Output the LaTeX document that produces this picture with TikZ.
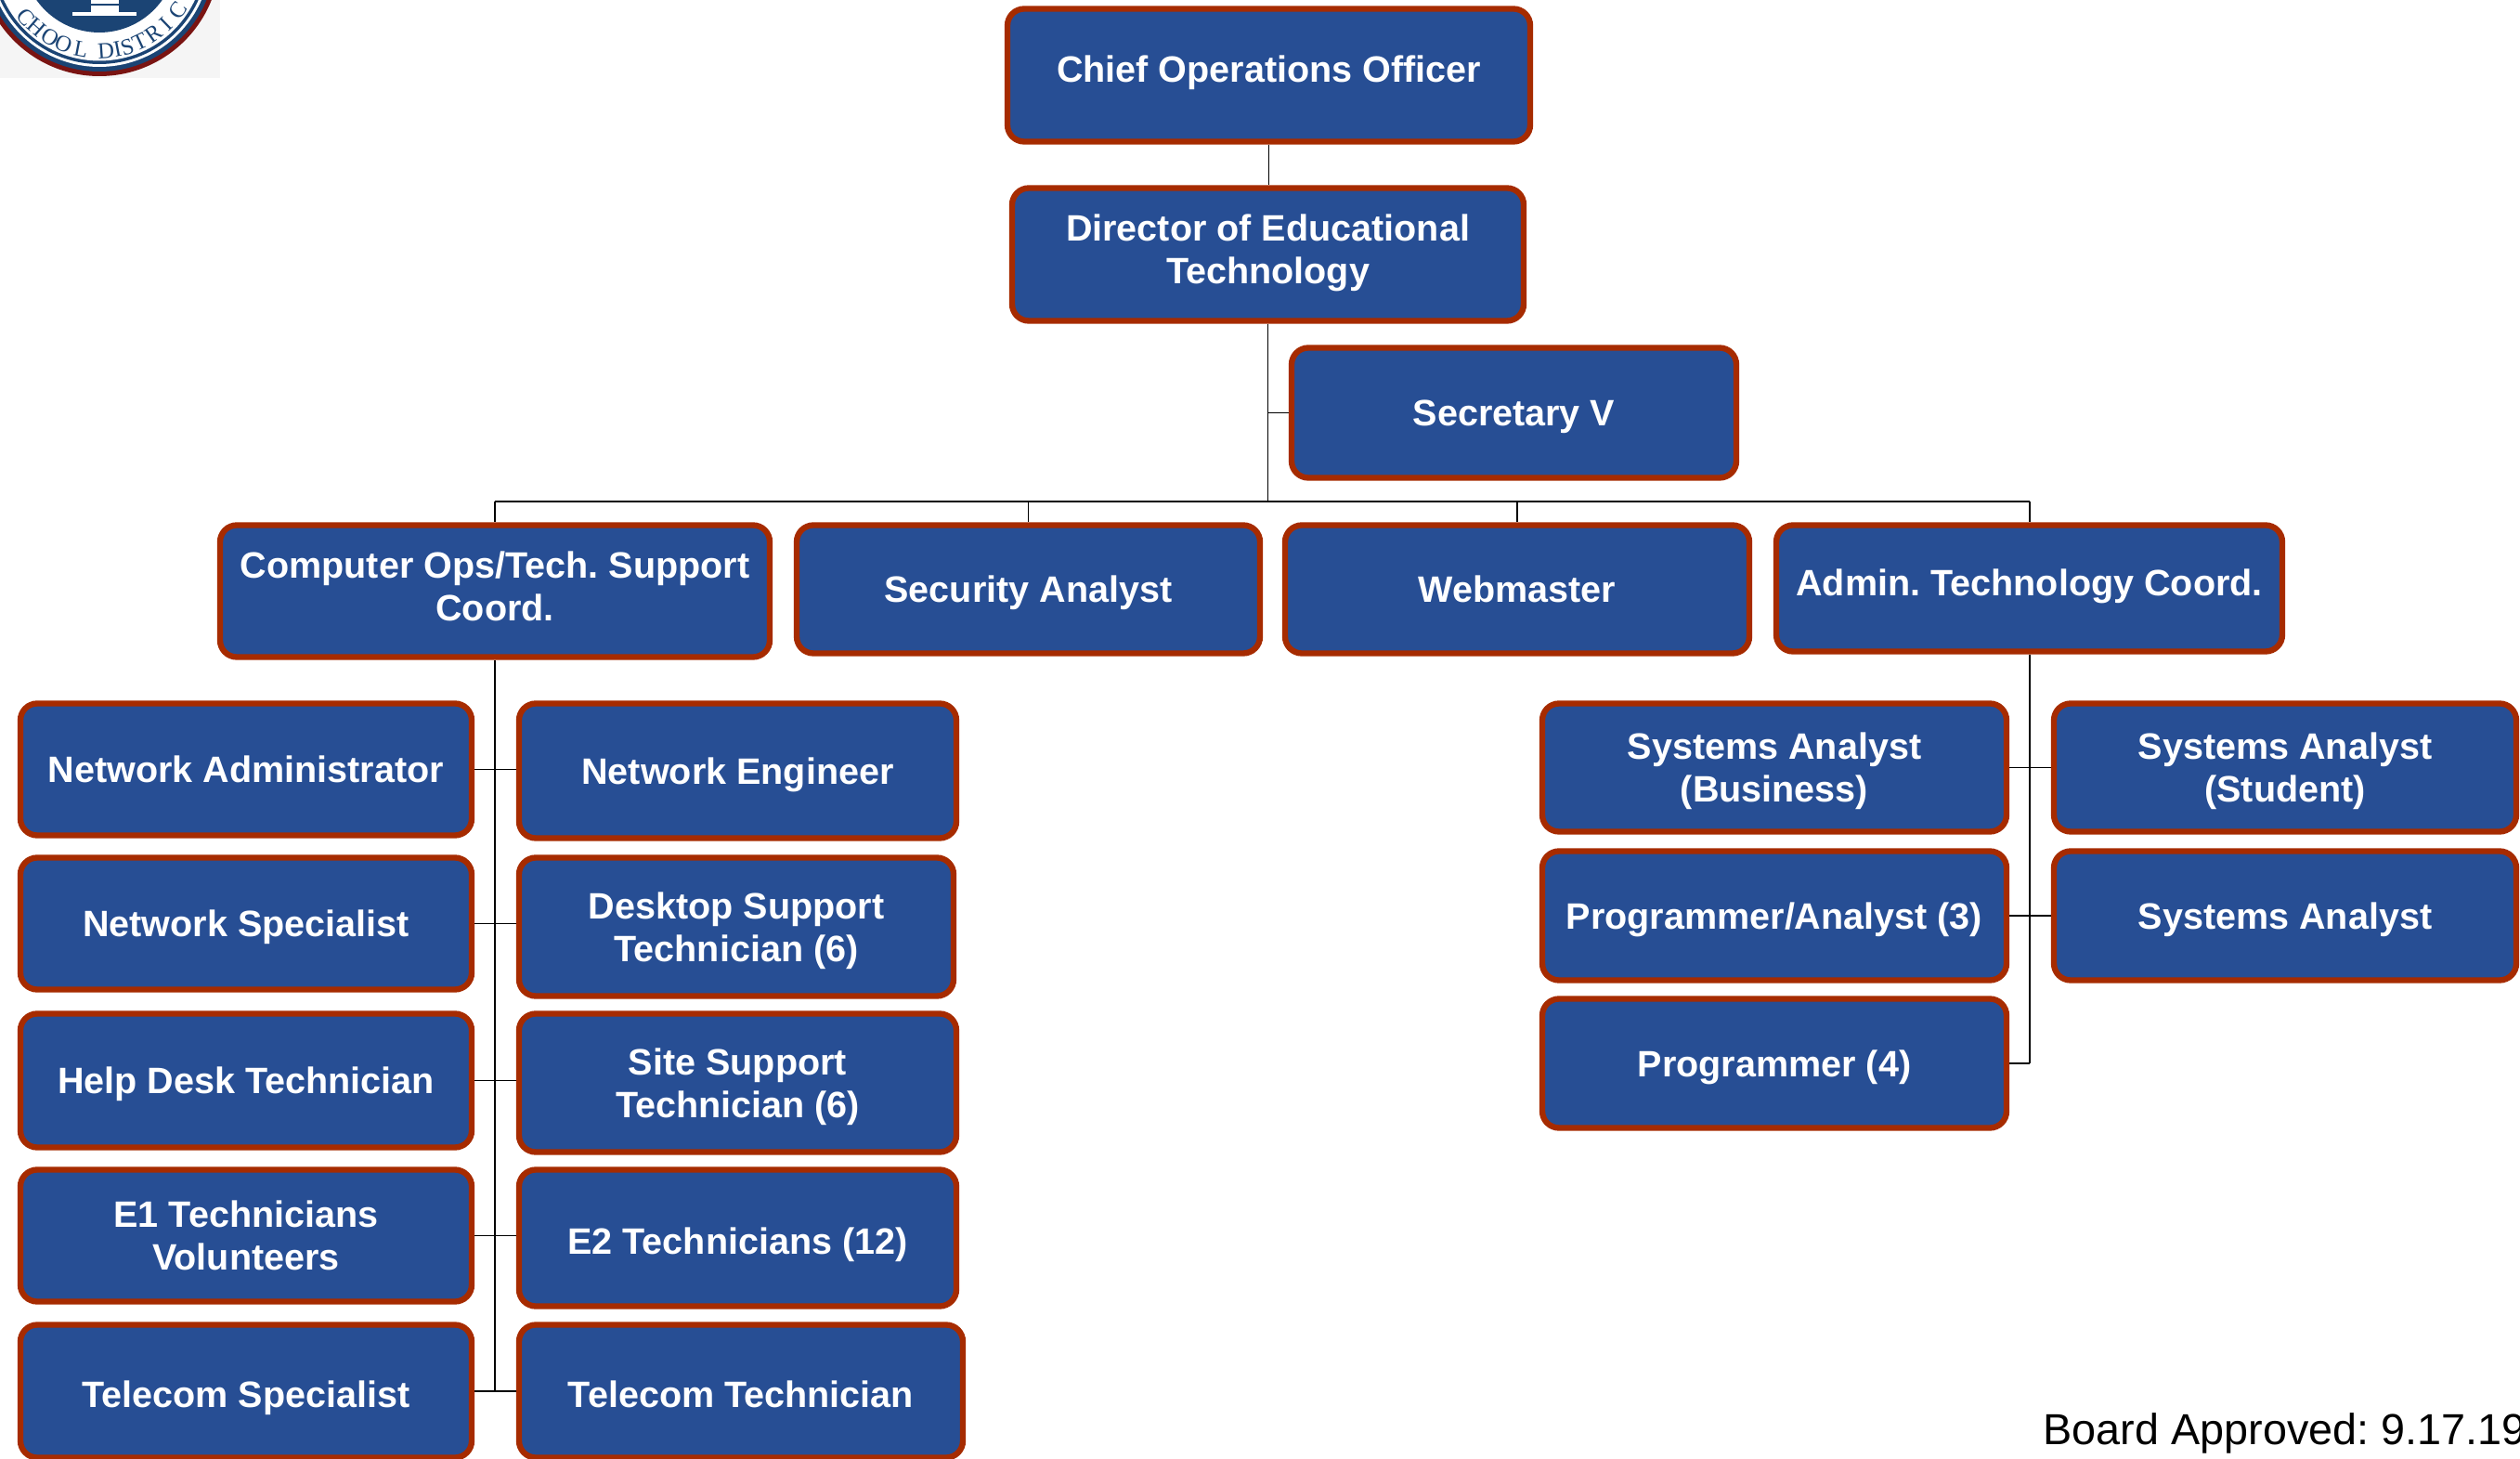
\documentclass[tikz,border=0pt]{standalone}
\usepackage{fontspec}
\setmainfont{Liberation Sans}
\newfontfamily\sealfont{Liberation Serif}
\definecolor{boxblue}{HTML}{274E94}
\definecolor{boxred}{HTML}{A62B00}
\definecolor{sealnavy}{HTML}{1B4474}
\definecolor{sealred}{HTML}{7A1412}
\tikzset{
  orgbox/.style={draw=boxred,fill=boxblue,line width=1.8pt,rounded corners=0.18cm,
    text=white,align=center,inner sep=0pt,text depth=0pt,font=\bfseries\fontsize{11.25}{13.1}\selectfont},
  conn/.style={draw=black,line width=0.55pt,-}
}
\frenchspacing
\begin{document}
\begin{tikzpicture}
\useasboundingbox (0,0) rectangle (27.14,15.7);
% seal in the corner
\fill[black!4] (0,14.86) rectangle (2.37,15.7);
\fill[sealred] (1.07,16.18) circle (1.30);
\fill[sealnavy] (1.07,16.18) circle (1.25);
\fill[white] (1.07,16.18) circle (1.20);
\fill[sealnavy] (1.07,16.18) circle (1.17);
\fill[white] (1.07,16.18) circle (1.135);
\fill[sealnavy] (1.07,16.18) circle (0.83);
\fill[white] (0.78,15.53) rectangle (1.47,15.57);
\fill[white] (0.98,15.57) rectangle (1.28,15.7);
\fill[sealnavy] (0.98,15.64) rectangle (1.28,15.66);
\foreach \ang/\ch in {140/C,131/H,121/O,112/O,101/L,86/D,79/I,73/S,65/T,55/R,46/I,35/C}
  \node[text=sealnavy,font=\sealfont\fontsize{7}{7}\selectfont,rotate=90-\ang,inner sep=0pt] (seal\ang)
    at ({1.07+1.03*cos(\ang)},{16.18-1.03*sin(\ang)}) {\ch};
% boxes
\node[orgbox,minimum width=5.63cm,minimum height=1.43cm,text depth=0.13cm] (coo) at (13.665,14.89) {Chief Operations Officer};
\node[orgbox,minimum width=5.51cm,minimum height=1.43cm,text depth=0.12cm] (dir) at (13.655,12.96) {Director of Educational\\Technology};
\node[orgbox,minimum width=4.79cm,minimum height=1.40cm] (sec) at (16.305,11.255) {Secretary V};
\node[orgbox,minimum width=5.92cm,minimum height=1.42cm,text depth=0.1cm] (ops) at (5.33,9.335) {Computer Ops/Tech. Support\\Coord.};
\node[orgbox,minimum width=4.99cm,minimum height=1.38cm] (ana) at (11.075,9.355) {Security Analyst};
\node[orgbox,minimum width=5.00cm,minimum height=1.38cm] (web) at (16.34,9.355) {Webmaster};
\node[orgbox,minimum width=5.45cm,minimum height=1.36cm,text depth=0.12cm] (adm) at (21.855,9.365) {Admin. Technology Coord.};
\node[orgbox,minimum width=4.86cm,minimum height=1.42cm] (nad) at (2.65,7.415) {Network Administrator};
\node[orgbox,minimum width=4.86cm,minimum height=1.42cm] (nsp) at (2.65,5.755) {Network Specialist};
\node[orgbox,minimum width=4.86cm,minimum height=1.44cm] (hlp) at (2.65,4.065) {Help Desk Technician};
\node[orgbox,minimum width=4.86cm,minimum height=1.42cm] (eon) at (2.65,2.395) {E1 Technicians\\Volunteers};
\node[orgbox,minimum width=4.86cm,minimum height=1.43cm,text height=0.34cm] (tsp) at (2.65,0.72) {Telecom Specialist};
\node[orgbox,minimum width=4.71cm,minimum height=1.45cm] (neg) at (7.945,7.40) {Network Engineer};
\node[orgbox,minimum width=4.68cm,minimum height=1.49cm] (dsk) at (7.93,5.72) {Desktop Support\\Technician (6)};
\node[orgbox,minimum width=4.71cm,minimum height=1.49cm] (sit) at (7.945,4.04) {Site Support\\Technician (6)};
\node[orgbox,minimum width=4.71cm,minimum height=1.47cm,text height=0.34cm] (etw) at (7.945,2.37) {E2 Technicians (12)};
\node[orgbox,minimum width=4.78cm,minimum height=1.43cm,text height=0.34cm] (ttc) at (7.98,0.72) {Telecom Technician};
\node[orgbox,minimum width=5.00cm,minimum height=1.38cm] (sba) at (19.11,7.435) {Systems Analyst\\(Business)};
\node[orgbox,minimum width=4.98cm,minimum height=1.38cm] (sbs) at (24.61,7.435) {Systems Analyst\\(Student)};
\node[orgbox,minimum width=5.00cm,minimum height=1.39cm] (pga) at (19.11,5.84) {Programmer/Analyst (3)};
\node[orgbox,minimum width=4.98cm,minimum height=1.39cm] (sya) at (24.61,5.84) {Systems Analyst};
\node[orgbox,minimum width=5.00cm,minimum height=1.39cm] (prg) at (19.11,4.25) {Programmer (4)};
\node[font=\fontsize{13.3}{15}\selectfont,anchor=west,inner sep=0pt] (brd) at (22.0,0.27) {Board Approved: 9.17.19};
% connectors
\coordinate (bus) at (13.66,10.30);
\path[conn] (coo.south) -- (coo.south |- dir.north);
\path[conn] (dir.south) -- (dir.south |- bus);
\path[conn] (sec.west) -- (sec.west -| dir.south);
\path[conn] (ops.north |- bus) -- (adm.north |- bus);
\path[conn] (ops.north |- bus) -- (ops.north);
\path[conn] (ana.north |- bus) -- (ana.north);
\path[conn] (web.north |- bus) -- (web.north);
\path[conn] (adm.north |- bus) -- (adm.north);
\path[conn] (ops.south) -- (ops.south |- tsp.east);
\path[conn] (nad.east) -- (nad.east -| neg.west);
\path[conn] (nsp.east) -- (nsp.east -| dsk.west);
\path[conn] (hlp.east) -- (hlp.east -| sit.west);
\path[conn] (eon.east) -- (eon.east -| etw.west);
\path[conn] (tsp.east) -- (tsp.east -| ttc.west);
\path[conn] (adm.south) -- (adm.south |- prg.east);
\path[conn] (sba.east) -- (sba.east -| sbs.west);
\path[conn] (pga.east) -- (pga.east -| sya.west);
\path[conn] (prg.east) -- (prg.east -| adm.south);
\end{tikzpicture}
\end{document}
